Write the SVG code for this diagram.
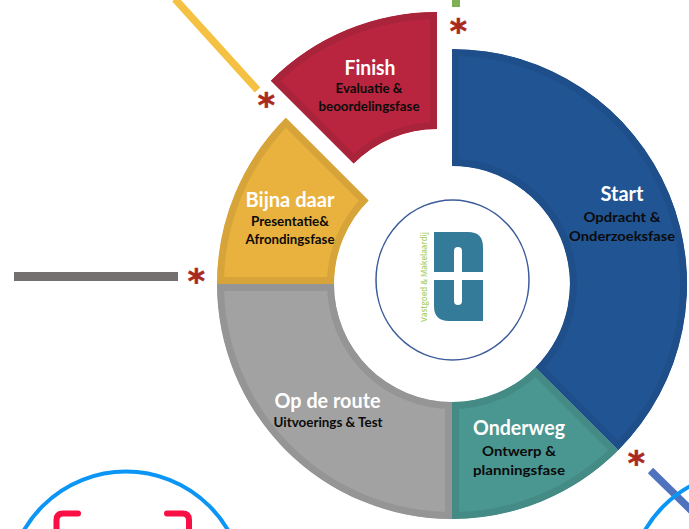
<svg xmlns="http://www.w3.org/2000/svg" xmlns:xlink="http://www.w3.org/1999/xlink" width="689" height="529" viewBox="0 0 689 529">
<style>
text{font-family:"Lato","Open Sans",sans-serif;font-weight:700;text-anchor:middle}
.t{fill:#fff;font-size:21px}
.s{fill:#0b0b0b;font-size:14px}
.a{fill:#a92a1c;stroke:#a92a1c;stroke-width:.6px;font-family:"DejaVu Sans",sans-serif;font-size:33px;font-weight:700}
.seg{stroke-width:14}
.l{fill:#337b98}
</style>
<defs>
<path id="pb" d="M452,49A235,235 0 0 1 618.2,450.2L535.4,367.4A118,118 0 0 0 452,166Z"/>
<path id="pt" d="M535.4,367.4L618.2,450.2A235,235 0 0 1 452,519V402A118,118 0 0 0 535.4,367.4Z"/>
<path id="pg" d="M217,284H334A118,118 0 0 0 452,402V519A235,235 0 0 1 217,284Z"/>
<path id="py" d="M217,284A235,235 0 0 1 285.8,117.8L368.6,200.6A118,118 0 0 0 334,284Z"/>
<path id="pr" d="M437,12A235,235 0 0 0 270.8,80.8L353.6,163.6A118,118 0 0 1 437,129Z"/>
<clipPath id="cb"><use xlink:href="#pb"/></clipPath>
<clipPath id="ct"><use xlink:href="#pt"/></clipPath>
<clipPath id="cg"><use xlink:href="#pg"/></clipPath>
<clipPath id="cy"><use xlink:href="#py"/></clipPath>
<clipPath id="cr"><use xlink:href="#pr"/></clipPath>
</defs>
<rect width="689" height="529" fill="#fff"/>
<g id="connectors" fill="none">
<path d="M175,-1L257.500,90" stroke="#f4c142" stroke-width="7.500"/>
<path d="M456,0V7" stroke="#7fb154" stroke-width="8"/>
<path d="M14,276.500H178" stroke="#757070" stroke-width="9"/>
<path d="M650.500,470.500L695,514" stroke="#4f72bf" stroke-width="7.500"/>
</g>
<g id="node-start">
<use xlink:href="#pb" class="seg" fill="#215493" stroke="#1f4f8a" clip-path="url(#cb)"/>
<text class="t" x="622" y="201" textLength="43" lengthAdjust="spacingAndGlyphs">Start</text>
<text class="s" x="622" y="222" textLength="77" lengthAdjust="spacingAndGlyphs">Opdracht &amp;</text>
<text class="s" x="622" y="241" textLength="106" lengthAdjust="spacingAndGlyphs">Onderzoeksfase</text>
</g>
<g id="node-onderweg">
<use xlink:href="#pt" class="seg" fill="#4a9690" stroke="#448b85" clip-path="url(#ct)"/>
<text class="t" x="519" y="435" textLength="92" lengthAdjust="spacingAndGlyphs">Onderweg</text>
<text class="s" x="519" y="456" textLength="74" lengthAdjust="spacingAndGlyphs">Ontwerp &amp;</text>
<text class="s" x="519" y="475" textLength="92" lengthAdjust="spacingAndGlyphs">planningsfase</text>
</g>
<g id="node-op-de-route">
<use xlink:href="#pg" class="seg" fill="#a2a2a2" stroke="#959595" clip-path="url(#cg)"/>
<text class="t" x="327.500" y="408" textLength="106" lengthAdjust="spacingAndGlyphs">Op de route</text>
<text class="s" x="328" y="427" textLength="109" lengthAdjust="spacingAndGlyphs">Uitvoerings &amp; Test</text>
</g>
<g id="node-bijna-daar">
<use xlink:href="#py" class="seg" fill="#e9b13d" stroke="#d7a43a" clip-path="url(#cy)"/>
<text class="t" x="290" y="207" textLength="89" lengthAdjust="spacingAndGlyphs">Bijna daar</text>
<text class="s" x="290" y="226" textLength="78" lengthAdjust="spacingAndGlyphs">Presentatie&amp;</text>
<text class="s" x="290" y="244" textLength="89" lengthAdjust="spacingAndGlyphs">Afrondingsfase</text>
</g>
<g id="node-finish">
<use xlink:href="#pr" class="seg" fill="#b9253f" stroke="#a9233a" clip-path="url(#cr)"/>
<text class="t" x="370" y="75" textLength="51" lengthAdjust="spacingAndGlyphs">Finish</text>
<text class="s" x="369" y="93" textLength="67" lengthAdjust="spacingAndGlyphs">Evaluatie &amp;</text>
<text class="s" x="369" y="111" textLength="101" lengthAdjust="spacingAndGlyphs">beoordelingsfase</text>
</g>
<g id="node-logo">
<ellipse cx="452.500" cy="280" rx="76.500" ry="80" fill="#fff" stroke="#3c5b9b" stroke-width="1.500"/>
<path class="l" d="M434,232H468Q483,232 483,247V272H462V251Q462,247 458,247Q454,247 454,251V272H434Z"/>
<path class="l" d="M434,280H454V301Q454,305 458,305Q462,305 462,301V280H483V321H449Q434,321 434,306Z"/>
<text transform="translate(427,277) rotate(-90)" fill="#a9d06a" style="font-family:'Open Sans',sans-serif;font-size:9px;font-weight:600" textLength="90" lengthAdjust="spacingAndGlyphs">Vastgoed &amp; Makelaardij</text>
</g>
<g id="markers">
<text class="a" x="458.500" y="43">*</text>
<text class="a" x="266.500" y="117">*</text>
<text class="a" x="196.500" y="293">*</text>
<text class="a" x="636.500" y="475">*</text>
</g>
<g id="node-circle-left" fill="none">
<circle cx="126" cy="589.500" r="118" stroke="#0b96f5" stroke-width="4"/>
<path d="M78,513.500H63Q56.500,513.500 56.500,520V532M167,513.500H182.500Q189,513.500 189,520V532" stroke="#f90f45" stroke-width="6" stroke-linecap="round"/>
</g>
<g id="node-circle-right">
<circle cx="747" cy="589.500" r="118" fill="none" stroke="#0b96f5" stroke-width="4"/>
</g>
</svg>
